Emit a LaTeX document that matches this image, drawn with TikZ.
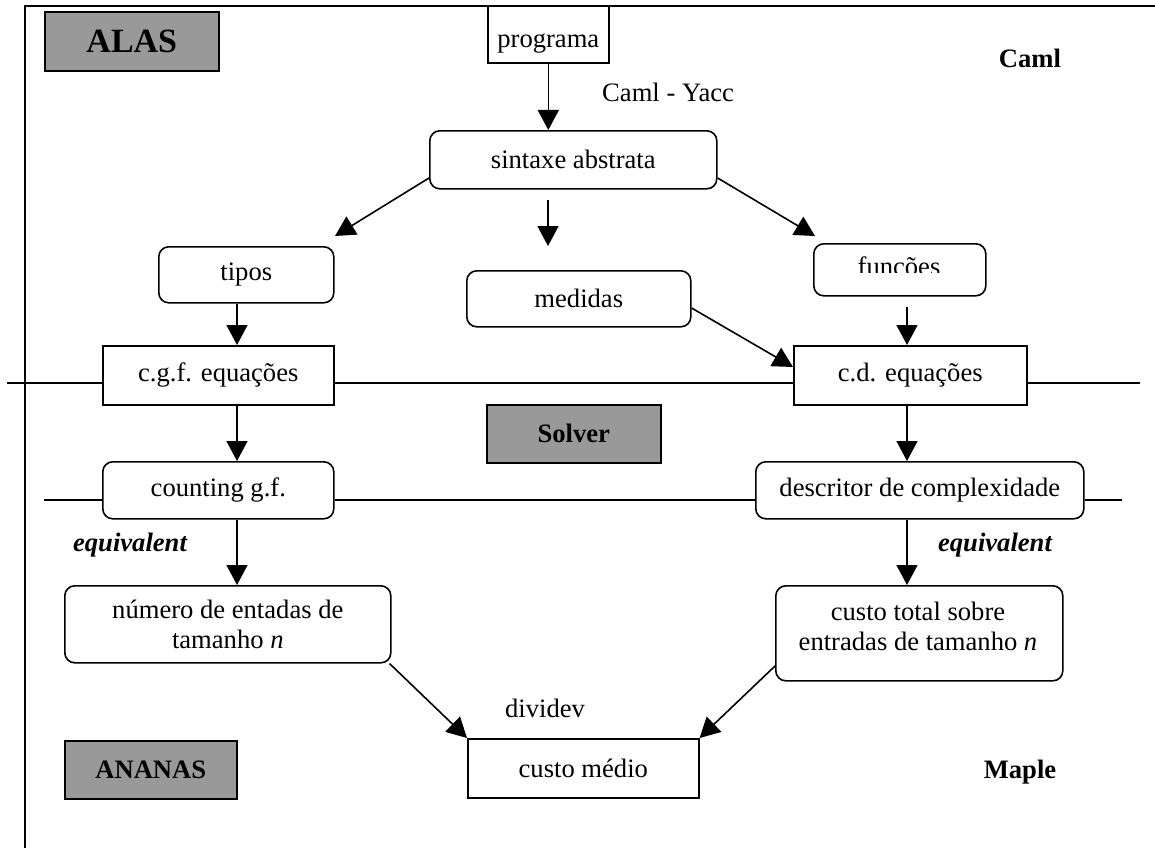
\documentclass[tikz,border=0pt]{standalone}
\usepackage{fontspec}
\setmainfont{Liberation Serif}
\usetikzlibrary{arrows.meta}
\begin{document}
\begin{tikzpicture}[x=1pt,y=-1pt,
  every node/.style={font=\fontsize{26.6}{30}\selectfont, inner sep=0pt},
  ln/.style={line width=1.6pt},
  arr/.style={ln,-{Triangle[length=20pt,width=21pt]}},
  sqbox/.style={draw,line width=1.6pt,anchor=north west},
  rbox/.style={draw,line width=1.6pt,rounded corners=10pt,anchor=north west},
  graybox/.style={draw,line width=1.6pt,fill=black!40,anchor=north west,font=\fontsize{26.6}{30}\selectfont\bfseries},
  lbl/.style={font=\fontsize{26.6}{30}\selectfont},
  eqv/.style={font=\fontsize{26.6}{30}\selectfont\bfseries\itshape}
]
\useasboundingbox (0,0) rectangle (1155,848);
% outer frame
\draw[ln] (25,848) -- (25,6) -- (1155,6);

% group labels
\node[graybox,minimum width=174pt,minimum height=59pt,font=\fontsize{34}{38}\selectfont\bfseries] (alas) at (44,11) {ALAS};
\node[graybox,minimum width=174pt,minimum height=58pt] (solver) at (486,404) {Solver};
\node[graybox,minimum width=172pt,minimum height=58pt] (ananas) at (64,740) {ANANAS};
\node[lbl,font=\fontsize{26.6}{30}\selectfont\bfseries] (caml) at (1030,58) {Caml};
\node[lbl,font=\fontsize{26.6}{30}\selectfont\bfseries] (maple) at (1020,772) {Maple};

% boxes
\node[sqbox,minimum width=121pt,minimum height=57pt,text height=32pt] (prog) at (487,5) {programa};
\node[rbox,minimum width=287pt,minimum height=58pt] (sint) at (429,130) {sintaxe abstrata};
\node[rbox,minimum width=175pt,minimum height=56pt] (tipos) at (158,246) {tipos};
\node[rbox,minimum width=224pt,minimum height=56pt] (med) at (466,270) {medidas};
\node[rbox,minimum width=172pt,minimum height=52pt] (func) at (813,243) {};
\begin{scope}
  \clip (813,243) rectangle (985,272);
  \node[lbl] (functxt) at (899,269) {funções};
\end{scope}
\node[sqbox,minimum width=231pt,minimum height=59pt] (cgf) at (102,345) {c.g.f. equações};
\node[sqbox,minimum width=233pt,minimum height=59pt] (cd) at (793,345) {c.d. equações};
\node[rbox,minimum width=231pt,minimum height=57pt] (count) at (102,461) {counting g.f.};
\node[rbox,minimum width=328pt,minimum height=57pt] (desc) at (755,461) {descritor de complexidade};
\node[rbox,minimum width=326pt,minimum height=77pt,align=center] (num) at (64,585)
  {número de entadas de\\tamanho \textit{n}};
\node[rbox,minimum width=287pt,minimum height=95pt] (tot) at (775,585) {};
\node[lbl,align=center] (tottxt) at (918,626) {custo total sobre\\entradas de tamanho \textit{n}};
\node[sqbox,minimum width=231pt,minimum height=59pt] (med2) at (467,738) {custo médio};

% horizontal layer lines
\draw[ln] (7,383) -- (cgf.west |- 0,383);
\draw[ln] (cgf.east |- 0,383) -- (cd.west |- 0,383);
\draw[ln] (cd.east |- 0,383) -- (1140,383);
\draw[ln] (44,500) -- (count.west |- 0,500);
\draw[ln] (count.east |- 0,500) -- (desc.west |- 0,500);
\draw[ln] (desc.east |- 0,500) -- (1122,500);

% connectors
\draw[arr] (prog.south) -- (sint.north -| prog.south);
\node[lbl,anchor=west] (yacc) at (602,92) {Caml - Yacc};
\draw[arr] (sint.west |- 0,178) -- (335,236);
\draw[arr] (548,200) -- (548,246);
\draw[arr] (sint.east |- 0,178) -- (815,236);
\draw[arr] (tipos.south -| 237,0) -- (cgf.north -| 237,0);
\draw[arr] (907,307) -- (cd.north -| 907,0);
\draw[arr] (med.east |- 0,308) -- (cd.north west |- 0,367);
\draw[arr] (cgf.south -| 237,0) -- (count.north -| 237,0);
\draw[arr] (cd.south -| 907,0) -- (desc.north -| 907,0);
\draw[arr] (count.south -| 237,0) -- (num.north -| 237,0);
\draw[arr] (desc.south -| 907,0) -- (tot.north -| 907,0);
\node[eqv] (eq1) at (130,545) {equivalent};
\node[eqv] (eq2) at (995,545) {equivalent};
\draw[arr] (num.south east) ++(-2,0) -- (med2.north west);
\draw[arr] (tot.west |- 0,666) -- (med2.north east);
\node[lbl] (divi) at (545,708) {dividev};
\end{tikzpicture}
\end{document}
